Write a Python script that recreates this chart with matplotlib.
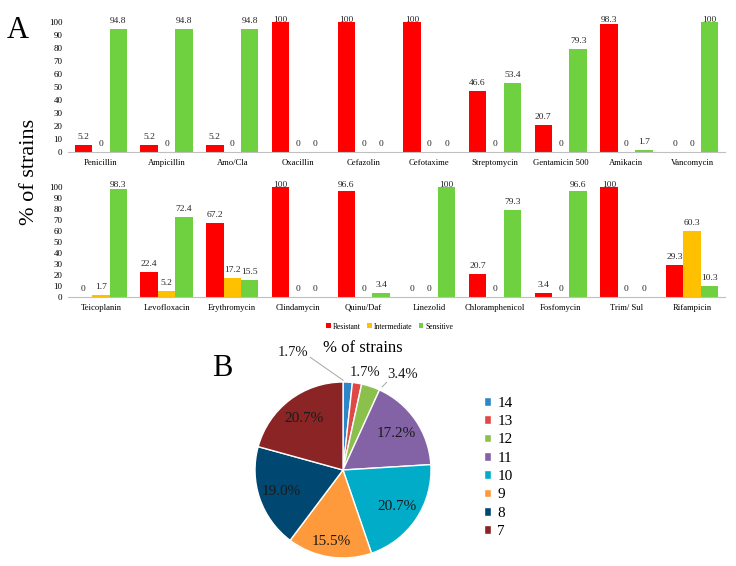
import numpy as np
import matplotlib
matplotlib.use('Agg')
import matplotlib.pyplot as plt

plt.rcParams['font.family'] = ['Liberation Serif', 'DejaVu Serif']

# panel A data
drugs_top = ['Penicillin', 'Ampicillin', 'Amo/Cla', 'Oxacillin', 'Cefazolin', 'Cefotaxime',
             'Streptomycin', 'Gentamicin 500', 'Amikacin', 'Vancomycin']
res_top = [5.2, 5.2, 5.2, 100, 100, 100, 46.6, 20.7, 98.3, 0]
int_top = [0, 0, 0, 0, 0, 0, 0, 0, 0, 0]
sen_top = [94.8, 94.8, 94.8, 0, 0, 0, 53.4, 79.3, 1.7, 100]

drugs_bot = ['Teicoplanin', 'Levofloxacin', 'Erythromycin', 'Clindamycin', 'Quinu/Daf',
             'Linezolid', 'Chloramphenicol', 'Fosfomycin', 'Trim/ Sul', 'Rifampicin']
res_bot = [0, 22.4, 67.2, 100, 96.6, 0, 20.7, 3.4, 100, 29.3]
int_bot = [1.7, 5.2, 17.2, 0, 0, 0, 0, 0, 0, 60.3]
sen_bot = [98.3, 72.4, 15.5, 0, 3.4, 100, 79.3, 96.6, 0, 10.3]

series_names = ['Resistant', 'Intermediate', 'Sensitive']
series_colors = ['#ff0000', '#ffc000', '#6fd040']

# panel B data
pie_labels = ['14', '13', '12', '11', '10', '9', '8', '7']
pie_values = [1.7, 1.7, 3.4, 17.2, 20.7, 15.5, 19.0, 20.7]
pie_colors = ['#2e86c8', '#e04848', '#8cc04c', '#8462a6', '#00acc8', '#ff9a3c', '#004872', '#8b2424']

fig = plt.figure(figsize=(7.36, 5.66), dpi=100)

W, H = 736, 566
def box(x0, y0, x1, y1):
    return [x0 / W, 1 - y1 / H, (x1 - x0) / W, (y1 - y0) / H]

def bar_panel(ax, names, groups, px_h):
    x = np.arange(len(names))
    w = 0.265
    unit = px_h / 100.0          # pixels per percent
    off = 8 / unit               # label centre ~8px above bar
    top = 100 + 2 / unit         # labels kept inside plot area
    for k, (vals, col) in enumerate(zip(groups, series_colors)):
        pos = x + (k - 1) * w
        ax.bar(pos, vals, width=w, color=col, label=series_names[k])
        for p, v in zip(pos, vals):
            txt = ('%g' % v) if v != int(v) else '%d' % v
            ax.text(p, min(v + off, top), txt, ha='center', va='center', fontsize=6.8,
                    color='#262626')
    ax.set_xlim(-0.5, len(names) - 0.5)
    ax.set_ylim(0, 100)
    ax.set_yticks(range(0, 101, 10))
    ax.set_xticks(x)
    ax.set_xticklabels(names)
    ax.tick_params(axis='both', length=0)
    ax.tick_params(axis='y', labelsize=6.5, pad=4)
    ax.tick_params(axis='x', labelsize=6.2, pad=5)
    for s in ['top', 'right', 'left']:
        ax.spines[s].set_visible(False)
    ax.spines['bottom'].set_color('#bfbfbf')

ax1 = fig.add_axes(box(68, 22, 725, 152))
bar_panel(ax1, drugs_top, [res_top, int_top, sen_top], 130)
ax2 = fig.add_axes(box(68, 187, 725, 297))
bar_panel(ax2, drugs_bot, [res_bot, int_bot, sen_bot], 110)

ax2.legend(loc='upper center', bbox_to_anchor=(0.49, -0.17), ncol=3, frameon=False,
           fontsize=5.5, handlelength=0.6, handleheight=0.6, handletextpad=0.3, columnspacing=0.8)

fig.text(18 / W, 1 - 31 / H, 'A', fontsize=22, ha='center', va='center')
fig.text(30 / W, 1 - 172 / H, '% of strains', fontsize=16, rotation=90, ha='center', va='center')

# panel B
axp = fig.add_axes(box(255, 382, 431, 558))
wedges, texts, autotexts = axp.pie(pie_values, colors=pie_colors, startangle=90, counterclock=False,
                                   autopct='%.1f%%', pctdistance=0.74,
                                   wedgeprops=dict(edgecolor='white', linewidth=1),
                                   textprops=dict(fontsize=11, color='#1a1a1a'))
axp.set_xlim(-1, 1)
axp.set_ylim(-1, 1)
axp.set_aspect('equal')
# 15.5% label sits a bit further out
px, py = autotexts[5].get_position()
autotexts[5].set_position((px * 0.82 / 0.74, py * 0.82 / 0.74))
# small slices labelled outside
outside = {0: (-0.57, 1.33), 1: (0.25, 1.11), 2: (0.68, 1.08)}
for i, (tx, ty) in outside.items():
    autotexts[i].set_position((tx, ty))
    autotexts[i].set_fontsize(10.5)
    autotexts[i].set_clip_on(False)
axp.annotate('', xy=(0.03, 1.0), xytext=(-0.40, 1.30),
             arrowprops=dict(arrowstyle='-', color='#a6a6a6', lw=0.7), annotation_clip=False)
axp.annotate('', xy=(0.42, 0.92), xytext=(0.52, 1.02),
             arrowprops=dict(arrowstyle='-', color='#a6a6a6', lw=0.7), annotation_clip=False)

fig.text(363 / W, 1 - 348 / H, '% of strains', fontsize=12, ha='center', va='center')
fig.text(222 / W, 1 - 369 / H, 'B', fontsize=22, ha='center', va='center')

fig.legend(wedges, pie_labels, loc='upper left', bbox_to_anchor=(470 / W, 1 - 383 / H),
           frameon=False, fontsize=11, handlelength=0.5, handleheight=0.5,
           handletextpad=0.4, labelspacing=0.35)

plt.savefig('out.png', dpi=100)
